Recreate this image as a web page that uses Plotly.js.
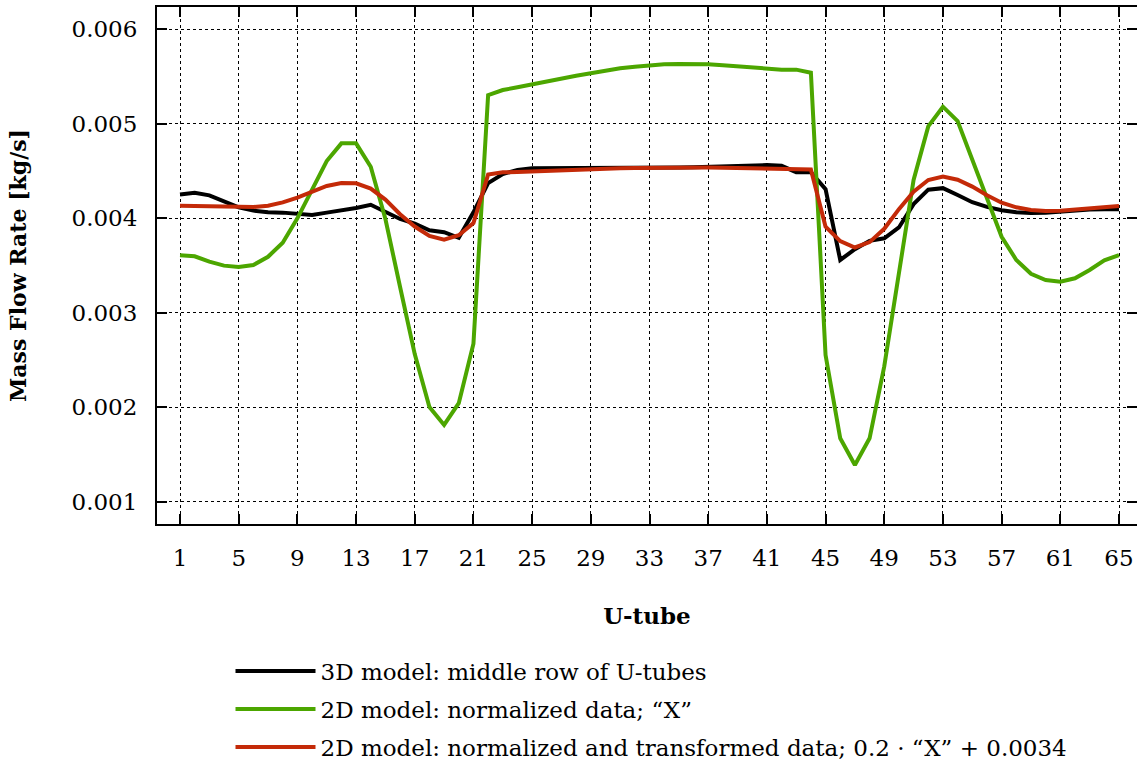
<!DOCTYPE html>
<html>
<head>
<meta charset="utf-8">
<script src="https://cdn.plot.ly/plotly-3.0.1.min.js"></script>
<style>html,body{margin:0;padding:0;background:#fff;}#chart{width:1137px;height:765px;}</style>
</head>
<body>
<div id="chart"></div>
<script>
const utube = Array.from({length: 65}, (_, i) => i + 1);
const xTicks = [1, 5, 9, 13, 17, 21, 25, 29, 33, 37, 41, 45, 49, 53, 57, 61, 65];

const model3D = [
  0.00425, 0.004268, 0.00424, 0.004173, 0.004113, 0.004078, 0.00406, 0.004057, 0.004046, 0.004032,
  0.004057, 0.004078, 0.004106, 0.00414, 0.00406, 0.00399, 0.00394, 0.00387, 0.00385, 0.00379,
  0.00406, 0.00437, 0.004466, 0.004508, 0.004526, 0.004526, 0.004527, 0.004528, 0.004528, 0.004529,
  0.00453, 0.00453, 0.004531, 0.004532, 0.004535, 0.004538, 0.004542, 0.004547, 0.004552, 0.004557,
  0.00456, 0.004552, 0.004485, 0.004485, 0.004305, 0.003556, 0.00367, 0.003758, 0.003785, 0.0039,
  0.004147, 0.0043, 0.004316, 0.004243, 0.004167, 0.004118, 0.004083, 0.00406, 0.004052, 0.004057,
  0.00407, 0.004082, 0.00409, 0.004092, 0.004092
];

const model2DNorm = [
  0.003605, 0.003595, 0.003538, 0.003496, 0.003481, 0.003503, 0.00359, 0.003739, 0.003997, 0.004296,
  0.004603, 0.00479, 0.00479, 0.004543, 0.00399, 0.00327, 0.00256, 0.002, 0.00181, 0.00204,
  0.00267, 0.0053, 0.005354, 0.005383, 0.005415, 0.00545, 0.005478, 0.005506, 0.005531, 0.005559,
  0.005584, 0.005601, 0.005616, 0.005626, 0.00563, 0.00563, 0.005626, 0.005616, 0.005605, 0.005591,
  0.005577, 0.00557, 0.00557, 0.005538, 0.00255, 0.001669, 0.001386, 0.001669, 0.00243, 0.00341,
  0.004402, 0.00497, 0.005178, 0.005025, 0.004614, 0.004215, 0.003802, 0.003556, 0.00341, 0.003344,
  0.003326, 0.003362, 0.00345, 0.003552, 0.003608
];

const model2DTrans = [
  0.00413, 0.004127, 0.00412, 0.004113, 0.00411, 0.004117, 0.00413, 0.004166, 0.004215, 0.004279,
  0.004339, 0.00437, 0.004367, 0.004312, 0.004195, 0.00404, 0.00391, 0.00381, 0.00377, 0.003818,
  0.003947, 0.00446, 0.004483, 0.004487, 0.004494, 0.004501, 0.004506, 0.004511, 0.004516, 0.004521,
  0.004526, 0.00453, 0.004533, 0.004535, 0.004536, 0.004536, 0.004535, 0.004533, 0.004531, 0.004528,
  0.004525, 0.004524, 0.004522, 0.004513, 0.003908, 0.003755, 0.003688, 0.003745, 0.003886, 0.004094,
  0.004279, 0.004402, 0.00444, 0.004405, 0.004332, 0.00424, 0.004162, 0.004113, 0.004085, 0.004074,
  0.004076, 0.004088, 0.0041, 0.00412, 0.004128
];

const seriesNames = [
  '3D model: middle row of U-tubes',
  '2D model: normalized data; \u201CX\u201D',
  '2D model: normalized and transformed data; 0.2 \u00B7 \u201CX\u201D + 0.0034'
];
const colors = ['#000000', '#4ca600', '#c42a08'];
const seriesData = [model3D, model2DNorm, model2DTrans];

const traces = seriesData.map((ys, i) => ({
  x: utube, y: ys, type: 'scatter', mode: 'lines',
  name: seriesNames[i], legendgroup: 'g' + i,
  line: {color: colors[i], width: 4}
}));

const FONT = 'DejaVu Serif, Liberation Serif, serif';

const layout = {
  width: 1137, height: 765,
  margin: {l: 157, r: 0, t: 7, b: 241, autoexpand: false},
  paper_bgcolor: '#fff', plot_bgcolor: '#fff',
  font: {family: FONT, color: '#000', size: 23},
  showlegend: true,
  legend: {
    x: 0.075, xanchor: 'left', xref: 'paper',
    y: -0.243, yanchor: 'top', yref: 'paper',
    orientation: 'v', tracegroupgap: 5, itemwidth: 80,
    font: {family: FONT, size: 23, color: '#000'},
    bgcolor: 'rgba(0,0,0,0)'
  },
  xaxis: {
    range: [-0.568, 66.227],
    tickmode: 'array', tickvals: xTicks, ticktext: xTicks.map(String),
    ticks: 'inside', ticklen: 10, tickwidth: 2, tickcolor: '#000',
    showline: true, linewidth: 2, linecolor: '#000', mirror: 'ticks',
    showgrid: true, gridcolor: '#000', gridwidth: 1, griddash: 'dot',
    zeroline: false, automargin: false,
    ticklabelstandoff: 12,
    tickfont: {family: FONT, size: 23, color: '#000'},
    title: {text: '<b>U-tube</b>', font: {family: FONT, size: 23, color: '#000'}, standoff: 38}
  },
  yaxis: {
    range: [0.000762, 0.006233],
    tickmode: 'array', tickvals: [0.001, 0.002, 0.003, 0.004, 0.005, 0.006],
    ticktext: ['0.001', '0.002', '0.003', '0.004', '0.005', '0.006'],
    ticks: 'inside', ticklen: 10, tickwidth: 2, tickcolor: '#000',
    showline: true, linewidth: 2, linecolor: '#000', mirror: 'ticks',
    showgrid: true, gridcolor: '#000', gridwidth: 1, griddash: 'dot',
    zeroline: false, automargin: false,
    ticklabelstandoff: 13,
    tickfont: {family: FONT, size: 23, color: '#000'},
    title: {text: '<b>Mass Flow Rate [kg/s]</b>', font: {family: FONT, size: 22, color: '#000'}, standoff: 39}
  }
};

Plotly.newPlot('chart', traces, layout, {displayModeBar: false, staticPlot: true});
</script>
</body>
</html>
